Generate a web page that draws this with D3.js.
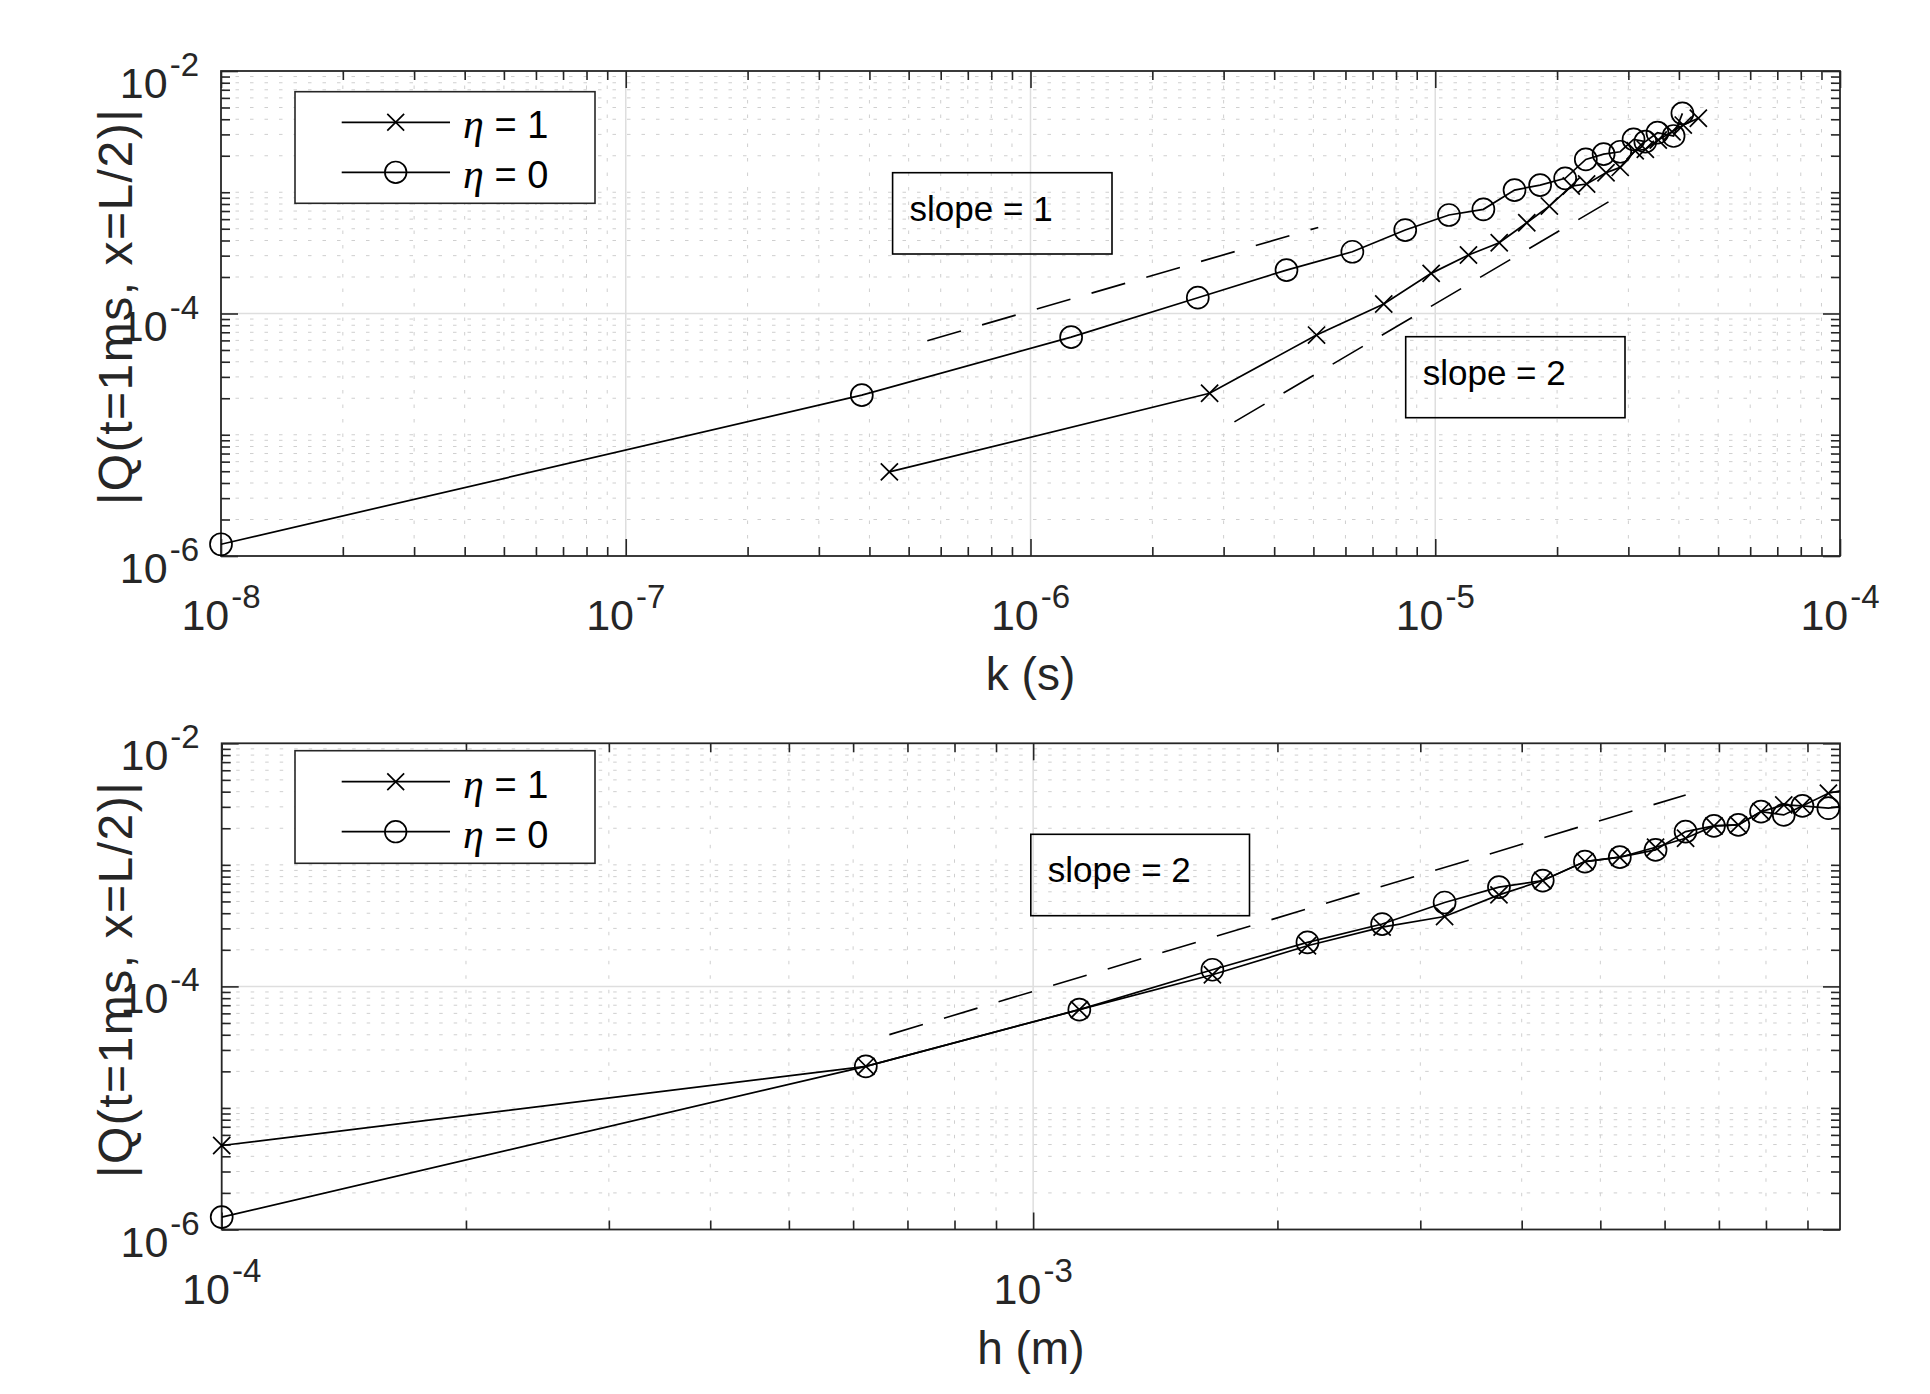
<!DOCTYPE html>
<html><head><meta charset="utf-8">
<script src="https://cdn.jsdelivr.net/npm/d3@7"></script>
<style>html,body{margin:0;padding:0;background:#fff;}</style>
</head><body>
<svg id="chart" width="1930" height="1394"></svg>
<script>
// ---------------- DATA ----------------
// Top panel: error vs time step k
const kEta1 = [4.48e-7, 2.77e-6, 5.09e-6, 7.46e-6, 9.77e-6, 1.208e-5, 1.439e-5, 1.683e-5, 1.914e-5, 2.168e-5,
               2.366e-5, 2.642e-5, 2.864e-5, 3.119e-5, 3.304e-5, 3.556e-5, 3.846e-5, 4.10e-5, 4.467e-5];
const qkEta1 = [4.94e-6, 2.20e-5, 6.64e-5, 1.197e-4, 2.143e-4, 3.034e-4, 3.83e-4, 5.60e-4, 7.69e-4, 1.125e-3,
               1.169e-3, 1.449e-3, 1.603e-3, 2.198e-3, 2.259e-3, 2.698e-3, 3.155e-3, 3.581e-3, 4.074e-3];
const kEta0 = [1e-8, 3.83e-7, 1.26e-6, 2.59e-6, 4.29e-6, 6.24e-6, 8.43e-6, 1.081e-5, 1.315e-5, 1.57e-5,
               1.816e-5, 2.094e-5, 2.355e-5, 2.606e-5, 2.864e-5, 3.09e-5, 3.304e-5, 3.54e-5, 3.88e-5, 4.08e-5];
const qkEta0 = [1.25e-6, 2.12e-5, 6.38e-5, 1.35e-4, 2.28e-4, 3.23e-4, 4.88e-4, 6.49e-4, 7.23e-4, 1.042e-3,
               1.146e-3, 1.303e-3, 1.866e-3, 2.065e-3, 2.158e-3, 2.729e-3, 2.612e-3, 3.097e-3, 2.911e-3, 4.477e-3];
const kRefSlope1 = [5.56e-7, 5.14e-6];
const qRefSlope1 = [5.96e-5, 5.13e-4];
const kRefSlope2 = [3.19e-6, 2.754e-5];
const qRefSlope2 = [1.276e-5, 8.79e-4];

// Bottom panel: error vs grid spacing h
const hVals = [1e-4, 6.22e-4, 1.140e-3, 1.663e-3, 2.178e-3, 2.692e-3, 3.214e-3, 3.750e-3, 4.246e-3, 4.786e-3,
               5.284e-3, 5.848e-3, 6.368e-3, 6.902e-3, 7.396e-3, 7.889e-3, 8.414e-3, 8.872e-3, 9.55e-3, 1.04e-2];
const qhEta1 = [4.91e-6, 2.20e-5, 6.44e-5, 1.247e-4, 2.158e-4, 3.076e-4, 3.758e-4, 5.66e-4, 7.43e-4, 1.064e-3,
               1.156e-3, 1.396e-3, 1.656e-3, 2.089e-3, 2.133e-3, 2.742e-3, 3.112e-3, 3.055e-3, 3.882e-3, 4.37e-3];
const qhEta0 = [1.265e-6, 2.20e-5, 6.44e-5, 1.371e-4, 2.301e-4, 3.258e-4, 4.90e-4, 6.56e-4, 7.43e-4, 1.064e-3,
               1.156e-3, 1.327e-3, 1.879e-3, 2.089e-3, 2.133e-3, 2.742e-3, 2.576e-3, 3.055e-3, 2.924e-3, 3.16e-3];
const hRefSlope2 = [6.65e-4, 6.37e-3];
const qhRefSlope2 = [4.01e-5, 3.76e-3];

// Axis tick labels
const kTickVals = [1e-8, 1e-7, 1e-6, 1e-5, 1e-4];
const kTickExp  = ["-8", "-7", "-6", "-5", "-4"];
const hTickVals = [1e-4, 1e-3];
const hTickExp  = ["-4", "-3"];
const qTickVals = [1e-6, 1e-4, 1e-2];
const qTickExp  = ["-6", "-4", "-2"];
const legendLabels = ["1", "0"];   // eta values
const yLabelText = "|Q(t=1ms, x=L/2)|";

// ---------------- STYLE / LAYOUT ----------------
const FONT = "'Liberation Sans', Arial, Helvetica, sans-serif";
const AX = "#262626";
const svg = d3.select("#chart");

const panels = [
  { x0: 221, x1: 1840, y0: 71, y1: 556, xDom: [1e-8, 1e-4], xTicks: kTickVals, xExp: kTickExp,
    xLabel: "k (s)",
    series: [ {x: kEta1, y: qkEta1, m: "x"}, {x: kEta0, y: qkEta0, m: "o"} ],
    refs: [ {x: kRefSlope1, y: qRefSlope1}, {x: kRefSlope2, y: qRefSlope2} ],
    boxes: [ {x: 892.6, y: 172.7, w: 219.4, h: 81.3, text: "slope = 1"},
             {x: 1405.7, y: 336.7, w: 219.3, h: 81, text: "slope = 2"} ],
    legend: {x: 295, y: 91.7, w: 300, h: 111.6, rows: [122.3, 172.3]} },
  { x0: 221.7, x1: 1840, y0: 743.3, y1: 1229.5, xDom: [1e-4, 9.87e-3], xTicks: hTickVals, xExp: hTickExp,
    xLabel: "h (m)",
    series: [ {x: hVals, y: qhEta1, m: "x"}, {x: hVals, y: qhEta0, m: "o"} ],
    refs: [ {x: hRefSlope2, y: qhRefSlope2} ],
    boxes: [ {x: 1030.8, y: 834.3, w: 218.7, h: 81.4, text: "slope = 2"} ],
    legend: {x: 295, y: 750.7, w: 300, h: 112.6, rows: [781.7, 831.7]} }
];

function minorVals(dom, majors) {
  const out = [];
  const e0 = Math.floor(Math.log10(dom[0])), e1 = Math.ceil(Math.log10(dom[1]));
  for (let e = e0; e <= e1; e++) for (let m = 1; m <= 9; m++) {
    const v = m * Math.pow(10, e);
    if (v >= dom[0] * 0.9999 && v <= dom[1] * 1.0001 && !majors.some(t => Math.abs(t - v) / v < 1e-6)) out.push(v);
  }
  return out;
}

function marker(g, type, cx, cy, r) {
  if (type === "o") {
    g.append("circle").attr("cx", cx).attr("cy", cy).attr("r", r)
      .attr("fill", "none").attr("stroke", "#000").attr("stroke-width", 1.7);
  } else {
    const a = r * 0.78;
    g.append("path").attr("d", `M${cx - a},${cy - a}L${cx + a},${cy + a}M${cx - a},${cy + a}L${cx + a},${cy - a}`)
      .attr("fill", "none").attr("stroke", "#000").attr("stroke-width", 1.7);
  }
}

panels.forEach((p, pi) => {
  const x = d3.scaleLog().domain(p.xDom).range([p.x0, p.x1]);
  const y = d3.scaleLog().domain([1e-6, 1e-2]).range([p.y1, p.y0]);
  const g = svg.append("g");
  const clipId = "clip" + pi;
  g.append("clipPath").attr("id", clipId).append("rect")
    .attr("x", p.x0).attr("y", p.y0).attr("width", p.x1 - p.x0).attr("height", p.y1 - p.y0);

  const xMinor = minorVals(p.xDom, p.xTicks);
  const yMinor = minorVals([1e-6, 1e-2], qTickVals);

  // minor grid
  const grid = g.append("g");
  grid.selectAll(".mgx").data(xMinor).join("line")
    .attr("x1", d => x(d)).attr("x2", d => x(d)).attr("y1", p.y0).attr("y2", p.y1)
    .attr("stroke", "#cfcfcf").attr("stroke-width", 1).attr("stroke-dasharray", "3.5,11");
  grid.selectAll(".mgy").data(yMinor).join("line")
    .attr("y1", d => y(d)).attr("y2", d => y(d)).attr("x1", p.x0).attr("x2", p.x1)
    .attr("stroke", "#cfcfcf").attr("stroke-width", 1).attr("stroke-dasharray", "3.5,11");
  // major grid
  grid.selectAll(".Mgx").data(p.xTicks.filter(v => v > p.xDom[0] && v < p.xDom[1])).join("line")
    .attr("x1", d => x(d)).attr("x2", d => x(d)).attr("y1", p.y0).attr("y2", p.y1)
    .attr("stroke", "#dedede").attr("stroke-width", 1.5);
  grid.selectAll(".Mgy").data(qTickVals.filter(v => v > 1e-6 && v < 1e-2)).join("line")
    .attr("y1", d => y(d)).attr("y2", d => y(d)).attr("x1", p.x0).attr("x2", p.x1)
    .attr("stroke", "#dedede").attr("stroke-width", 1.5);

  // axes with inward ticks on all four sides
  const axG = g.append("g");
  const mkAx = (axisFn, scale, vals, size, tx, ty) => {
    const a = axG.append("g").attr("transform", `translate(${tx},${ty})`)
      .call(axisFn(scale).tickValues(vals).tickSize(size).tickSizeOuter(0).tickFormat(""));
    a.select(".domain").remove();
    a.selectAll("line").attr("stroke", AX).attr("stroke-width", 1.6);
  };
  const xMaj = p.xTicks.filter(v => v >= p.xDom[0] && v <= p.xDom[1]);
  mkAx(d3.axisBottom, x, xMaj, -17, 0, p.y1);
  mkAx(d3.axisBottom, x, xMinor, -9, 0, p.y1);
  mkAx(d3.axisTop, x, xMaj, -17, 0, p.y0);
  mkAx(d3.axisTop, x, xMinor, -9, 0, p.y0);
  mkAx(d3.axisLeft, y, qTickVals, -17, p.x0, 0);
  mkAx(d3.axisLeft, y, yMinor, -9, p.x0, 0);
  mkAx(d3.axisRight, y, qTickVals, -17, p.x1, 0);
  mkAx(d3.axisRight, y, yMinor, -9, p.x1, 0);
  axG.append("rect").attr("x", p.x0).attr("y", p.y0).attr("width", p.x1 - p.x0).attr("height", p.y1 - p.y0)
    .attr("fill", "none").attr("stroke", AX).attr("stroke-width", 1.8);

  // tick labels
  xMaj.forEach((v) => {
    const t = g.append("text").attr("x", x(v)).attr("y", p.y1 + 74).attr("text-anchor", "middle")
      .attr("font-family", FONT).attr("fill", AX);
    t.append("tspan").attr("font-size", 43).text("10");
    t.append("tspan").attr("font-size", 33).attr("dx", 2).attr("dy", -22).text(p.xExp[p.xTicks.indexOf(v)]);
  });
  qTickVals.forEach((v, i) => {
    const t = g.append("text").attr("x", p.x0 - 22).attr("y", y(v) + 27).attr("text-anchor", "end")
      .attr("font-family", FONT).attr("fill", AX);
    t.append("tspan").attr("font-size", 43).text("10");
    t.append("tspan").attr("font-size", 33).attr("dx", 2).attr("dy", -22).text(qTickExp[i]);
  });

  // axis labels
  g.append("text").attr("x", (p.x0 + p.x1) / 2).attr("y", p.y1 + 134).attr("text-anchor", "middle")
    .attr("font-family", FONT).attr("font-size", 46).attr("fill", AX).text(p.xLabel);
  g.append("text").attr("transform", `translate(132,${(p.y0 + p.y1) / 2 - 7}) rotate(-90)`)
    .attr("text-anchor", "middle").attr("font-family", FONT).attr("font-size", 48)
    .attr("letter-spacing", 1.5).attr("fill", AX)
    .text(yLabelText);

  // reference dashed lines
  const line = d3.line().x(d => x(d[0])).y(d => y(d[1]));
  p.refs.forEach(r => {
    g.append("path").attr("d", line(r.x.map((v, i) => [v, r.y[i]])))
      .attr("fill", "none").attr("stroke", "#000").attr("stroke-width", 1.6).attr("stroke-dasharray", "35,22");
  });

  // data series
  p.series.forEach(s => {
    const pts = s.x.map((v, i) => [v, s.y[i]]);
    g.append("path").attr("d", line(pts)).attr("clip-path", `url(#${clipId})`)
      .attr("fill", "none").attr("stroke", "#000").attr("stroke-width", 1.7);
    const mg = g.append("g");
    pts.filter(d => d[0] >= p.xDom[0] && d[0] <= p.xDom[1]).forEach(d => marker(mg, s.m, x(d[0]), y(d[1]), 11));
  });

  // text boxes
  p.boxes.forEach(b => {
    g.append("rect").attr("x", b.x).attr("y", b.y).attr("width", b.w).attr("height", b.h)
      .attr("fill", "none").attr("stroke", "#000").attr("stroke-width", 1.6);
    g.append("text").attr("x", b.x + 17).attr("y", b.y + 48).attr("font-family", FONT)
      .attr("font-size", 35).attr("fill", "#000").text(b.text);
  });

  // legend
  const L = p.legend;
  g.append("rect").attr("x", L.x).attr("y", L.y).attr("width", L.w).attr("height", L.h)
    .attr("fill", "#fff").attr("stroke", AX).attr("stroke-width", 1.6);
  p.series.forEach((s, i) => {
    const ry = L.rows[i];
    g.append("line").attr("x1", L.x + 46.7).attr("x2", L.x + 155).attr("y1", ry).attr("y2", ry)
      .attr("stroke", "#000").attr("stroke-width", 1.7);
    marker(g, s.m, L.x + 100.7, ry, 10.8);
    const t = g.append("text").attr("x", L.x + 168).attr("y", ry + 16).attr("font-size", 38).attr("fill", "#000");
    t.append("tspan").attr("font-family", "'Liberation Serif', 'DejaVu Serif', serif").attr("font-style", "italic")
      .attr("font-size", 42).text("η");
    t.append("tspan").attr("font-family", FONT).text(" = " + legendLabels[i]);
  });
});
</script>
</body></html>
